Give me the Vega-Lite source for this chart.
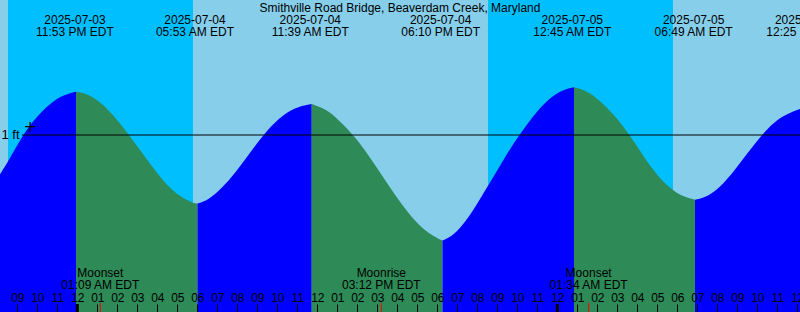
{
  "$schema": "https://vega.github.io/schema/vega-lite/v6.json",
  "width": 800,
  "height": 312,
  "padding": 0,
  "autosize": "none",
  "config": {"view": {"stroke": null}, "font": "Liberation Sans"},
  "datasets": {
    "sky": [
      {"start": "2025-07-03T20:00:00Z", "end": "2025-07-03T20:32:06Z", "period": "day"},
      {"start": "2025-07-03T20:32:06Z", "end": "2025-07-04T05:47:06Z", "period": "night"},
      {"start": "2025-07-04T05:47:06Z", "end": "2025-07-04T20:32:06Z", "period": "day"},
      {"start": "2025-07-04T20:32:06Z", "end": "2025-07-05T05:47:06Z", "period": "night"},
      {"start": "2025-07-05T05:47:06Z", "end": "2025-07-05T12:30:00Z", "period": "day"}
    ],
    "tide": [
      {"t": "2025-07-03T20:08:06Z", "ft": 0.607, "seg": "A", "dir": "rising"},
      {"t": "2025-07-03T20:38:06Z", "ft": 0.767, "seg": "A", "dir": "rising"},
      {"t": "2025-07-03T21:08:06Z", "ft": 0.95, "seg": "A", "dir": "rising"},
      {"t": "2025-07-03T21:48:00Z", "ft": 1.15, "seg": "A", "dir": "rising"},
      {"t": "2025-07-03T22:38:06Z", "ft": 1.317, "seg": "A", "dir": "rising"},
      {"t": "2025-07-03T23:18:00Z", "ft": 1.40, "seg": "A", "dir": "rising"},
      {"t": "2025-07-03T23:56:06Z", "ft": 1.433, "seg": "A", "dir": "rising"},
      {"t": "2025-07-03T23:56:06Z", "ft": 1.433, "seg": "B", "dir": "falling"},
      {"t": "2025-07-04T00:28:12Z", "ft": 1.417, "seg": "B", "dir": "falling"},
      {"t": "2025-07-04T01:08:06Z", "ft": 1.333, "seg": "B", "dir": "falling"},
      {"t": "2025-07-04T01:48:00Z", "ft": 1.20, "seg": "B", "dir": "falling"},
      {"t": "2025-07-04T02:28:12Z", "ft": 1.033, "seg": "B", "dir": "falling"},
      {"t": "2025-07-04T03:08:06Z", "ft": 0.85, "seg": "B", "dir": "falling"},
      {"t": "2025-07-04T03:48:00Z", "ft": 0.667, "seg": "B", "dir": "falling"},
      {"t": "2025-07-04T04:28:12Z", "ft": 0.50, "seg": "B", "dir": "falling"},
      {"t": "2025-07-04T05:08:06Z", "ft": 0.383, "seg": "B", "dir": "falling"},
      {"t": "2025-07-04T05:48:00Z", "ft": 0.317, "seg": "B", "dir": "falling"},
      {"t": "2025-07-04T06:00:36Z", "ft": 0.315, "seg": "B", "dir": "falling"},
      {"t": "2025-07-04T06:00:36Z", "ft": 0.315, "seg": "C", "dir": "rising"},
      {"t": "2025-07-04T06:33:00Z", "ft": 0.35, "seg": "C", "dir": "rising"},
      {"t": "2025-07-04T07:13:12Z", "ft": 0.467, "seg": "C", "dir": "rising"},
      {"t": "2025-07-04T07:53:06Z", "ft": 0.617, "seg": "C", "dir": "rising"},
      {"t": "2025-07-04T08:33:00Z", "ft": 0.80, "seg": "C", "dir": "rising"},
      {"t": "2025-07-04T09:18:00Z", "ft": 1.00, "seg": "C", "dir": "rising"},
      {"t": "2025-07-04T10:03:00Z", "ft": 1.167, "seg": "C", "dir": "rising"},
      {"t": "2025-07-04T10:53:06Z", "ft": 1.277, "seg": "C", "dir": "rising"},
      {"t": "2025-07-04T11:43:12Z", "ft": 1.31, "seg": "C", "dir": "rising"},
      {"t": "2025-07-04T11:43:12Z", "ft": 1.31, "seg": "D", "dir": "falling"},
      {"t": "2025-07-04T12:33:00Z", "ft": 1.25, "seg": "D", "dir": "falling"},
      {"t": "2025-07-04T13:13:12Z", "ft": 1.117, "seg": "D", "dir": "falling"},
      {"t": "2025-07-04T13:53:06Z", "ft": 0.983, "seg": "D", "dir": "falling"},
      {"t": "2025-07-04T14:33:00Z", "ft": 0.80, "seg": "D", "dir": "falling"},
      {"t": "2025-07-04T15:13:12Z", "ft": 0.60, "seg": "D", "dir": "falling"},
      {"t": "2025-07-04T15:53:06Z", "ft": 0.40, "seg": "D", "dir": "falling"},
      {"t": "2025-07-04T16:33:00Z", "ft": 0.217, "seg": "D", "dir": "falling"},
      {"t": "2025-07-04T17:13:12Z", "ft": 0.067, "seg": "D", "dir": "falling"},
      {"t": "2025-07-04T17:53:06Z", "ft": -0.023, "seg": "D", "dir": "falling"},
      {"t": "2025-07-04T18:15:36Z", "ft": -0.055, "seg": "D", "dir": "falling"},
      {"t": "2025-07-04T18:15:36Z", "ft": -0.055, "seg": "E", "dir": "rising"},
      {"t": "2025-07-04T18:48:00Z", "ft": -0.007, "seg": "E", "dir": "rising"},
      {"t": "2025-07-04T19:28:12Z", "ft": 0.143, "seg": "E", "dir": "rising"},
      {"t": "2025-07-04T20:08:06Z", "ft": 0.36, "seg": "E", "dir": "rising"},
      {"t": "2025-07-04T20:48:00Z", "ft": 0.577, "seg": "E", "dir": "rising"},
      {"t": "2025-07-04T21:28:12Z", "ft": 0.81, "seg": "E", "dir": "rising"},
      {"t": "2025-07-04T22:08:06Z", "ft": 1.01, "seg": "E", "dir": "rising"},
      {"t": "2025-07-04T22:48:00Z", "ft": 1.193, "seg": "E", "dir": "rising"},
      {"t": "2025-07-04T23:28:12Z", "ft": 1.343, "seg": "E", "dir": "rising"},
      {"t": "2025-07-05T00:08:06Z", "ft": 1.443, "seg": "E", "dir": "rising"},
      {"t": "2025-07-05T00:50:06Z", "ft": 1.477, "seg": "E", "dir": "rising"},
      {"t": "2025-07-05T00:50:06Z", "ft": 1.477, "seg": "F", "dir": "falling"},
      {"t": "2025-07-05T01:28:12Z", "ft": 1.443, "seg": "F", "dir": "falling"},
      {"t": "2025-07-05T02:08:06Z", "ft": 1.343, "seg": "F", "dir": "falling"},
      {"t": "2025-07-05T02:48:00Z", "ft": 1.21, "seg": "F", "dir": "falling"},
      {"t": "2025-07-05T03:28:12Z", "ft": 1.043, "seg": "F", "dir": "falling"},
      {"t": "2025-07-05T04:08:06Z", "ft": 0.843, "seg": "F", "dir": "falling"},
      {"t": "2025-07-05T04:48:00Z", "ft": 0.643, "seg": "F", "dir": "falling"},
      {"t": "2025-07-05T05:28:12Z", "ft": 0.493, "seg": "F", "dir": "falling"},
      {"t": "2025-07-05T06:08:06Z", "ft": 0.393, "seg": "F", "dir": "falling"},
      {"t": "2025-07-05T06:53:06Z", "ft": 0.353, "seg": "F", "dir": "falling"},
      {"t": "2025-07-05T06:53:06Z", "ft": 0.353, "seg": "G", "dir": "rising"},
      {"t": "2025-07-05T07:28:12Z", "ft": 0.377, "seg": "G", "dir": "rising"},
      {"t": "2025-07-05T08:08:06Z", "ft": 0.477, "seg": "G", "dir": "rising"},
      {"t": "2025-07-05T08:48:00Z", "ft": 0.627, "seg": "G", "dir": "rising"},
      {"t": "2025-07-05T09:28:12Z", "ft": 0.81, "seg": "G", "dir": "rising"},
      {"t": "2025-07-05T10:08:06Z", "ft": 0.977, "seg": "G", "dir": "rising"},
      {"t": "2025-07-05T10:48:00Z", "ft": 1.127, "seg": "G", "dir": "rising"},
      {"t": "2025-07-05T11:28:12Z", "ft": 1.21, "seg": "G", "dir": "rising"},
      {"t": "2025-07-05T12:08:06Z", "ft": 1.26, "seg": "G", "dir": "rising"}
    ],
    "extremes": [
      {"t": "2025-07-03T23:53:00Z", "date": "2025-07-03", "time": "11:53 PM EDT"},
      {"t": "2025-07-04T05:53:00Z", "date": "2025-07-04", "time": "05:53 AM EDT"},
      {"t": "2025-07-04T11:39:00Z", "date": "2025-07-04", "time": "11:39 AM EDT"},
      {"t": "2025-07-04T18:10:00Z", "date": "2025-07-04", "time": "06:10 PM EDT"},
      {"t": "2025-07-05T00:45:00Z", "date": "2025-07-05", "time": "12:45 AM EDT"},
      {"t": "2025-07-05T06:49:00Z", "date": "2025-07-05", "time": "06:49 AM EDT"},
      {"t": "2025-07-05T12:25:00Z", "date": "2025-07-05", "time": "12:25 PM EDT"}
    ],
    "moon": [
      {"t": "2025-07-04T01:09:00Z", "event": "Moonset", "time": "01:09 AM EDT"},
      {"t": "2025-07-04T15:12:00Z", "event": "Moonrise", "time": "03:12 PM EDT"},
      {"t": "2025-07-05T01:34:00Z", "event": "Moonset", "time": "01:34 AM EDT"}
    ],
    "midnights": [
      {"t": "2025-07-04T00:00:00Z"},
      {"t": "2025-07-05T00:00:00Z"}
    ],
    "level": [
      {"start": "2025-07-03T21:14:06Z", "end": "2025-07-05T12:08:06Z", "ft": 1, "label": "1 ft", "labelAt": "2025-07-03T21:06:36Z", "markAt": "2025-07-03T21:39:00Z", "markFt": 1.083, "mark": "+"}
    ],
    "heading": [
      {"t": "2025-07-04T16:08:06Z", "label": "Smithville Road Bridge, Beaverdam Creek, Maryland"}
    ]
  },
  "layer": [
    {
      "data": {"name": "sky"},
      "mark": {"type": "rect"},
      "encoding": {
        "x": {
          "field": "start", "type": "temporal",
          "scale": {"type": "utc", "domain": [1751573286000, 1751717286000]},
          "axis": {
            "orient": "top", "offset": -312, "title": null,
            "tickCount": 40,
            "format": "%I",
            "labelFont": "Liberation Sans", "labelFontSize": 12, "labelColor": "black",
            "tickColor": "black", "tickSize": 8, "tickWidth": 1, "labelPadding": 0,
            "domain": false, "grid": false, "labelOverlap": false, "labelFlush": false, "labelBound": false, "zindex": 1
          }
        },
        "x2": {"field": "end"},
        "color": {
          "field": "period", "type": "nominal", "legend": null,
          "scale": {"domain": ["day", "night", "rising", "falling"], "range": ["#87CEEB", "#00BFFF", "#0000FF", "#2E8B57"]}
        }
      }
    },
    {
      "data": {"name": "tide"},
      "mark": {"type": "area", "interpolate": "basis", "clip": true},
      "encoding": {
        "x": {"field": "t", "type": "temporal"},
        "y": {"field": "ft", "type": "quantitative", "axis": null, "scale": {"domain": [-0.77, 2.35], "nice": false, "zero": false}},
        "y2": {"datum": -0.77},
        "color": {"field": "dir", "type": "nominal", "legend": null},
        "detail": {"field": "seg"}
      }
    },
    {
      "data": {"name": "level"},
      "mark": {"type": "rule", "color": "black", "strokeWidth": 1},
      "encoding": {
        "x": {"field": "start", "type": "temporal"},
        "x2": {"field": "end"},
        "y": {"field": "ft", "type": "quantitative"}
      }
    },
    {
      "data": {"name": "level"},
      "mark": {"type": "text", "align": "center", "baseline": "middle", "fontSize": 16, "color": "black", "font": "DejaVu Sans"},
      "encoding": {
        "x": {"field": "markAt", "type": "temporal"},
        "y": {"field": "markFt", "type": "quantitative"},
        "text": {"field": "mark"}
      }
    },
    {
      "data": {"name": "level"},
      "mark": {"type": "text", "align": "right", "baseline": "middle", "fontSize": 13, "color": "black", "font": "Liberation Sans"},
      "encoding": {
        "x": {"field": "labelAt", "type": "temporal"},
        "y": {"field": "ft", "type": "quantitative"},
        "text": {"field": "label"}
      }
    },
    {
      "data": {"name": "heading"},
      "mark": {"type": "text", "align": "center", "baseline": "middle", "fontSize": 12, "color": "black", "font": "Liberation Sans"},
      "encoding": {
        "x": {"field": "t", "type": "temporal"},
        "y": {"datum": 2.27},
        "text": {"field": "label"}
      }
    },
    {
      "data": {"name": "extremes"},
      "mark": {"type": "text", "align": "center", "baseline": "middle", "fontSize": 12, "color": "black", "font": "Liberation Sans"},
      "encoding": {
        "x": {"field": "t", "type": "temporal"},
        "y": {"datum": 2.15},
        "text": {"field": "date"}
      }
    },
    {
      "data": {"name": "extremes"},
      "mark": {"type": "text", "align": "center", "baseline": "middle", "fontSize": 12, "color": "black", "font": "Liberation Sans"},
      "encoding": {
        "x": {"field": "t", "type": "temporal"},
        "y": {"datum": 2.03},
        "text": {"field": "time"}
      }
    },
    {
      "data": {"name": "moon"},
      "mark": {"type": "text", "align": "center", "baseline": "middle", "fontSize": 12, "color": "black", "font": "Liberation Sans"},
      "encoding": {
        "x": {"field": "t", "type": "temporal"},
        "y": {"datum": -0.38},
        "text": {"field": "event"}
      }
    },
    {
      "data": {"name": "moon"},
      "mark": {"type": "text", "align": "center", "baseline": "middle", "fontSize": 12, "color": "black", "font": "Liberation Sans"},
      "encoding": {
        "x": {"field": "t", "type": "temporal"},
        "y": {"datum": -0.50},
        "text": {"field": "time"}
      }
    },
    {
      "data": {"name": "midnights"},
      "mark": {"type": "rule", "color": "black", "strokeWidth": 3},
      "encoding": {
        "x": {"field": "t", "type": "temporal"},
        "y": {"datum": -0.69},
        "y2": {"datum": -0.77}
      }
    },
    {
      "data": {"name": "moon"},
      "mark": {"type": "rule", "color": "#FF0000", "strokeWidth": 1},
      "encoding": {
        "x": {"field": "t", "type": "temporal"},
        "y": {"datum": -0.68},
        "y2": {"datum": -0.77}
      }
    }
  ]
}
